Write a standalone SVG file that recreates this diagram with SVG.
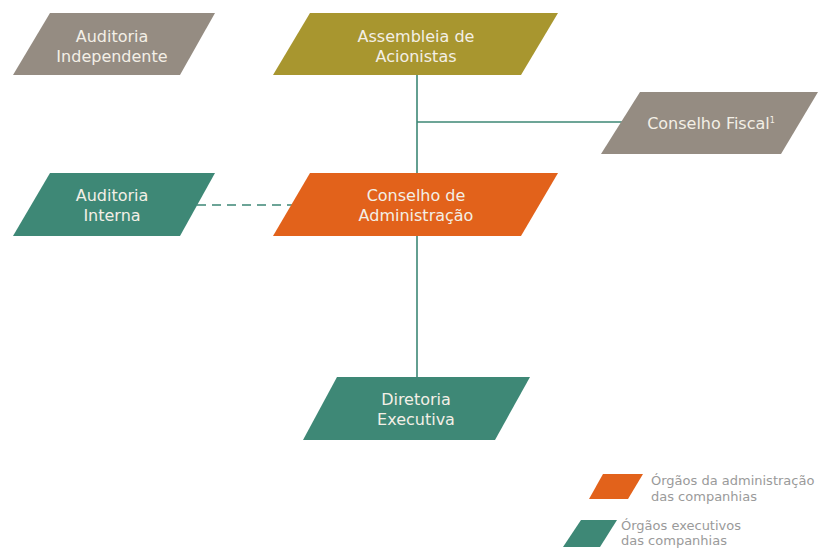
<svg xmlns="http://www.w3.org/2000/svg" width="818" height="548" viewBox="0 0 818 548">
<style>
.t{font-family:"DejaVu Sans",Verdana,sans-serif;font-size:16px;fill:#f3efe6;text-anchor:middle}
.lg{font-family:"DejaVu Sans",Verdana,sans-serif;font-size:13px;fill:#9a9a9a}
.ln{stroke:#3d8775;stroke-width:1.6;fill:none}
.gray{fill:#958c82}
.olive{fill:#a8962f}
.orange{fill:#e2621b}
.teal{fill:#3e8876}
</style>
<rect width="818" height="548" fill="#ffffff"/>
<g id="connectors">
<line class="ln" x1="417" y1="75" x2="417" y2="378"/>
<line class="ln" x1="417" y1="122" x2="622" y2="122"/>
<line class="ln" x1="197" y1="205" x2="292" y2="205" stroke="#8fbfb2" stroke-dasharray="9,6"/>
</g>
<g id="auditoria-independente">
<polygon class="gray" points="50,13 215,13 180,75 13,75"/>
<text class="t" x="112" y="42">Auditoria</text>
<text class="t" x="112" y="62">Independente</text>
</g>
<g id="assembleia">
<polygon class="olive" points="310,13 558,13 521,75 273,75"/>
<text class="t" x="416" y="42">Assembleia de</text>
<text class="t" x="416" y="62">Acionistas</text>
</g>
<g id="conselho-fiscal">
<polygon class="gray" points="640,92 818,92 781,154 601,154"/>
<text class="t" x="711" y="129">Conselho Fiscal<tspan font-size="8" dy="-6">1</tspan></text>
</g>
<g id="auditoria-interna">
<polygon class="teal" points="50,173 215,173 180,236 13,236"/>
<text class="t" x="112" y="201">Auditoria</text>
<text class="t" x="112" y="221">Interna</text>
</g>
<g id="conselho-administracao">
<polygon class="orange" points="310,173 558,173 521,236 273,236"/>
<text class="t" x="416" y="201">Conselho de</text>
<text class="t" x="416" y="221">Administração</text>
</g>
<g id="diretoria-executiva">
<polygon class="teal" points="337,377 530,377 495,440 303,440"/>
<text class="t" x="416" y="405">Diretoria</text>
<text class="t" x="416" y="425">Executiva</text>
</g>
<g id="legend">
<polygon class="orange" points="603,474 643,474 628,499 589,499"/>
<text class="lg" x="651" y="485">Órgãos da administração</text>
<text class="lg" x="651" y="501">das companhias</text>
<polygon class="teal" points="581,520 617,520 600,547 563,547"/>
<text class="lg" x="621" y="530">Órgãos executivos</text>
<text class="lg" x="621" y="545">das companhias</text>
</g>
</svg>
